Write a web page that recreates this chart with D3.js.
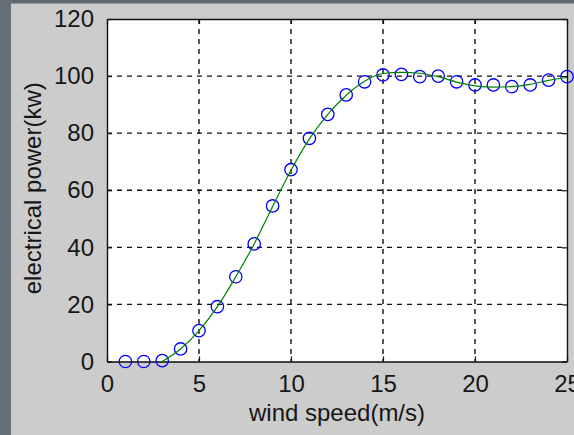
<!DOCTYPE html>
<html>
<head>
<meta charset="utf-8">
<script src="https://cdn.jsdelivr.net/npm/d3@7"></script>
<style>
  body { margin: 0; background: #cccccc; }
  text { font-family: "Liberation Sans", Arial, sans-serif; fill: #161616; }
</style>
</head>
<body>
<div id="chart-container"></div>
<script>
// measured power points (circles)
const windSpeed = [1, 2, 3, 4, 5, 6, 7, 8, 9, 10, 11, 12, 13, 14, 15, 16, 17, 18, 19, 20, 21, 22, 23, 24, 25];
const power = [0, 0, 0.3, 4.4, 10.8, 19.2, 29.7, 41.2, 54.5, 67.2, 78.2, 86.6, 93.4, 98.0, 100.4, 100.6, 99.8, 100.0, 98.0, 96.9, 96.9, 96.3, 96.9, 98.6, 99.8];

// fitted curve (green line)
const fitSpeed = [3, 4, 5, 6, 7, 8, 9, 10, 11, 12, 13, 14, 15, 16, 17, 18, 19, 20, 21, 22, 23, 24, 25];
const fitPower = [0, 4.4, 10.8, 19.2, 29.7, 41.2, 54.3, 67.0, 78.0, 86.6, 93.3, 98.2, 100.9, 101.3, 101.0, 99.8, 97.9, 96.6, 96.1, 96.3, 97.1, 98.5, 99.5];

const xTicks = [0, 5, 10, 15, 20, 25];
const yTicks = [0, 20, 40, 60, 80, 100, 120];

const width = 574,
      height = 435;
const margin = { top: 19, right: 7, bottom: 73.5, left: 107 };

const svg = d3.select("#chart-container").append("svg")
    .attr("width", width)
    .attr("height", height);

// window frame strips
svg.append("rect").attr("x", 0).attr("y", 0).attr("width", width).attr("height", 3.5).attr("fill", "#5d6a73");
svg.append("rect").attr("x", 0).attr("y", 0).attr("width", 11).attr("height", height).attr("fill", "#637079");

const x = d3.scaleLinear().domain([0, 25]).range([margin.left, width - margin.right]);
const y = d3.scaleLinear().domain([0, 120]).range([height - margin.bottom, margin.top]);

const x0 = x(0), x1 = x(25), y0 = y(0), y1 = y(120);

// plot area
svg.append("rect")
    .attr("x", x0).attr("y", y1)
    .attr("width", x1 - x0).attr("height", y0 - y1)
    .attr("fill", "#ffffff");

// grid
svg.append("g").selectAll("line.vgrid")
    .data(xTicks.slice(1, -1))
    .join("line")
    .attr("x1", d => x(d)).attr("x2", d => x(d))
    .attr("y1", y1).attr("y2", y0)
    .attr("stroke", "#111").attr("stroke-width", 1.4)
    .attr("stroke-dasharray", "5,5");

svg.append("g").selectAll("line.hgrid")
    .data(yTicks.slice(1, -1))
    .join("line")
    .attr("y1", d => y(d)).attr("y2", d => y(d))
    .attr("x1", x0).attr("x2", x1)
    .attr("stroke", "#111").attr("stroke-width", 1.4)
    .attr("stroke-dasharray", "5,5");

// axes (matlab style inward ticks, box)
const tickLen = 5;
const xAxisB = d3.axisBottom(x).tickValues(xTicks).tickSizeInner(-tickLen).tickSizeOuter(0).tickPadding(13);
const xAxisT = d3.axisTop(x).tickValues(xTicks).tickSizeInner(-tickLen).tickSizeOuter(0).tickFormat("");
const yAxisL = d3.axisLeft(y).tickValues(yTicks).tickSizeInner(-tickLen).tickSizeOuter(0).tickPadding(13);
const yAxisR = d3.axisRight(y).tickValues(yTicks).tickSizeInner(-tickLen).tickSizeOuter(0).tickFormat("");

function styleAxis(g) {
  g.select(".domain").attr("stroke", "#111").attr("stroke-width", 1.4);
  g.selectAll(".tick line").attr("stroke", "#111").attr("stroke-width", 1.2);
  g.selectAll(".tick text")
    .attr("font-size", 24)
    .attr("font-family", "Liberation Sans, Arial, sans-serif")
    .attr("fill", "#161616");
}

svg.append("g").attr("transform", "translate(0," + y0 + ")").call(xAxisB).call(styleAxis);
svg.append("g").attr("transform", "translate(0," + y1 + ")").call(xAxisT).call(styleAxis);
svg.append("g").attr("transform", "translate(" + x0 + ",0)").call(yAxisL).call(styleAxis);
svg.append("g").attr("transform", "translate(" + x1 + ",0)").call(yAxisR).call(styleAxis);

// markers
svg.append("g").selectAll("circle")
    .data(windSpeed.map((s, i) => [s, power[i]]))
    .join("circle")
    .attr("cx", d => x(d[0]))
    .attr("cy", d => y(d[1]))
    .attr("r", 6.2)
    .attr("fill", "none")
    .attr("stroke", "#0000ff")
    .attr("stroke-width", 1.3);

// fitted curve
const line = d3.line()
    .x(d => x(d[0]))
    .y(d => y(d[1]))
    .curve(d3.curveMonotoneX);

svg.append("path")
    .datum(fitSpeed.map((s, i) => [s, fitPower[i]]))
    .attr("d", line)
    .attr("fill", "none")
    .attr("stroke", "#008000")
    .attr("stroke-width", 1.2);

// labels
svg.append("text")
    .attr("x", (x0 + x1) / 2)
    .attr("y", 421)
    .attr("text-anchor", "middle")
    .attr("font-size", 24)
    .text("wind speed(m/s)");

svg.append("text")
    .attr("transform", "translate(41," + ((y0 + y1) / 2 - 2) + ") rotate(-90)")
    .attr("text-anchor", "middle")
    .attr("font-size", 24)
    .text("electrical power(kw)");
</script>
</body>
</html>
